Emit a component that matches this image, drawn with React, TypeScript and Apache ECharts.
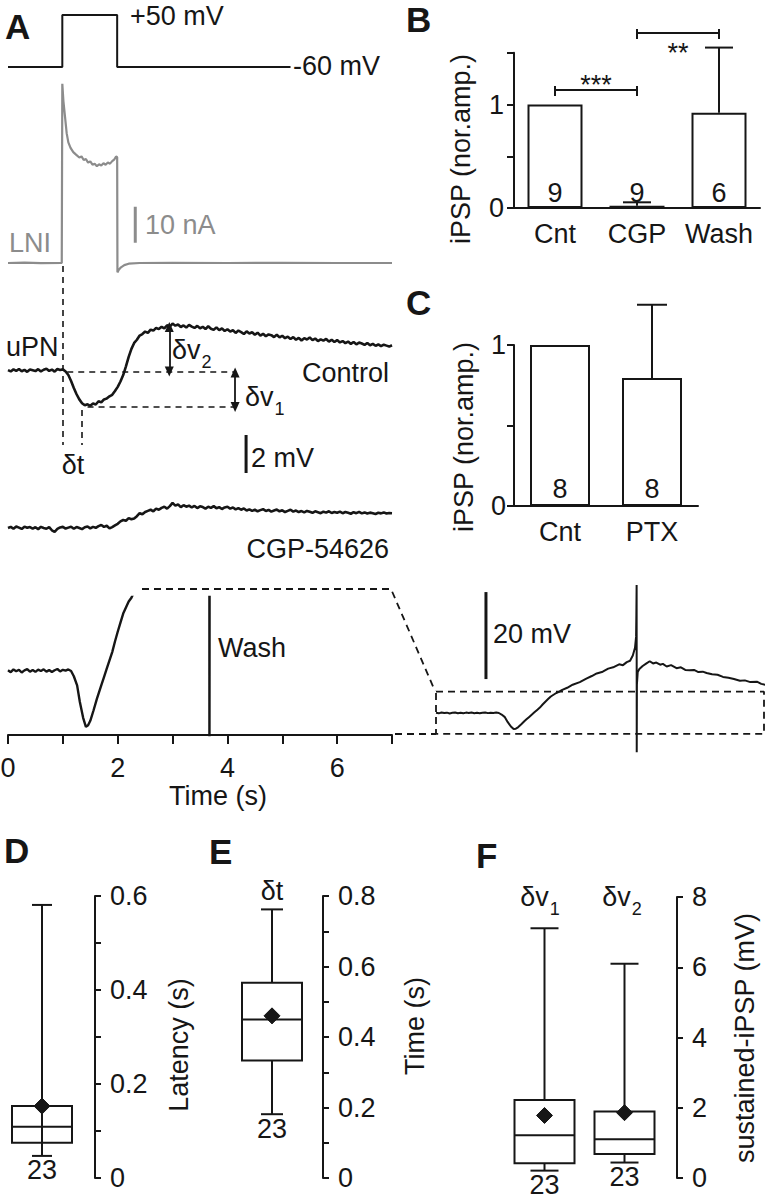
import React, { useEffect, useRef } from "react";
import * as echarts from "echarts";

const INK = "#161616";
const GRAY = "#8c8c8c";
const FONT = "'Liberation Sans', Arial, Helvetica, sans-serif";
const FS = 27;

// ---------------- Panel A : recordings ----------------
// command voltage step, [time (s), mV]
const commandTrace = [[0, -60], [0.99, -60], [0.99, 50], [1.99, 50], [1.99, -60], [5.15, -60]];
// LNI clamp current, [time (s), nA]
const lniCurrent = [
  [0, 0], [0.3, 0.1], [0.6, -0.05], [0.98, 0], [0.99, 49.8], [1.01, 45], [1.04, 40.5], [1.07, 36],
  [1.1, 33.5], [1.14, 32], [1.19, 30.8], [1.24, 30.1], [1.3, 29.3], [1.34, 29.6], [1.38, 28.6],
  [1.42, 28.9], [1.46, 27.9], [1.5, 28.2], [1.54, 27.3], [1.58, 27.6], [1.62, 26.9], [1.66, 27.4],
  [1.7, 27.1], [1.74, 27.7], [1.78, 27.3], [1.82, 27.9], [1.86, 27.6], [1.9, 28.3], [1.94, 28.8],
  [1.97, 29.6], [1.99, 29.4], [1.995, -2.6], [2.02, -1.9], [2.06, -1.2], [2.12, -0.6], [2.2, -0.2],
  [2.4, 0], [3, 0.05], [4, 0], [5, 0.05], [6, 0], [7, 0],
];
// uPN membrane potential (mV re. rest), sampled every 0.05 s from 0 to 7 s
const sampleStep = 0.05;
const controlTrace = [
  0.02, -0.05, 0.06, -0.02, 0.08, -0.04, 0.03, -0.07, 0.05, 0.01, -0.03, 0.07, -0.05, 0.04, 0.09, -0.02, 0.05, -0.06, 0.08, 0.03,
  0.06, -0.05, -0.24, -0.55, -0.92, -1.25, -1.52, -1.72, -1.83, -1.78, -1.86, -1.74, -1.79, -1.62, -1.68, -1.52, -1.48, -1.36, -1.28, -1.08,
  -0.86, -0.58, -0.24, 0.22, 0.72, 1.14, 1.45, 1.62, 1.84, 1.92, 2.05, 1.98, 2.15, 2.1, 2.24, 2.18, 2.3, 2.22, 2.38, 2.31,
  2.47, 2.36, 2.42, 2.29, 2.37, 2.26, 2.4, 2.31, 2.24, 2.35, 2.22, 2.3, 2.18, 2.33, 2.2, 2.14, 2.27, 2.12, 2.22, 2.08,
  2.17, 2.05, 2.12, 1.98, 2.1, 2.02, 1.92, 2.06, 1.95, 2.01, 1.88, 1.99, 1.84, 1.93, 1.8, 1.9, 1.86, 1.76, 1.88, 1.74,
  1.83, 1.7, 1.78, 1.66, 1.76, 1.62, 1.72, 1.58, 1.7, 1.63, 1.74, 1.6, 1.68, 1.55, 1.64, 1.57, 1.66, 1.52, 1.62, 1.5,
  1.6, 1.48, 1.55, 1.44, 1.52, 1.4, 1.5, 1.38, 1.47, 1.42, 1.35, 1.45, 1.33, 1.4, 1.3, 1.37, 1.28, 1.36, 1.31, 1.26, 1.33,
];
const cgpTrace = [
  0.0, 0.06, -0.04, 0.08, 0.02, -0.05, 0.07, 0.01, 0.05, -0.03, 0.04, -0.06, 0.06, 0.0, -0.04, 0.05, -0.12, -0.2, -0.05, 0.03,
  0.06, -0.03, 0.02, 0.07, -0.04, 0.05, 0.0, -0.06, 0.04, 0.08, -0.02, 0.06, 0.01, 0.1, 0.16, 0.06, 0.12, -0.02, 0.05, 0.14,
  0.22, 0.35, 0.42, 0.38, 0.52, 0.46, 0.5, 0.62, 0.78, 0.72, 0.84, 0.9, 0.96, 0.88, 1.02, 0.96, 1.06, 1.12, 1.02, 1.15,
  1.32, 1.18, 1.24, 1.1, 1.2, 1.12, 1.18, 1.08, 1.16, 1.05, 1.14, 1.1, 1.02, 1.12, 1.06, 1.15, 1.04, 1.1, 1.0, 1.08,
  1.12, 1.02, 1.08, 0.98, 1.05, 0.96, 1.03, 0.92, 0.98, 0.9, 0.96, 0.88, 0.94, 0.99, 0.9, 0.95, 0.86, 0.92, 0.97, 0.88,
  0.93, 0.84, 0.9, 0.96, 0.86, 0.92, 0.84, 0.89, 0.82, 0.9, 0.85, 0.8, 0.88, 0.83, 0.78, 0.86, 0.81, 0.88, 0.79, 0.84,
  0.8, 0.86, 0.78, 0.84, 0.8, 0.75, 0.83, 0.78, 0.85, 0.77, 0.82, 0.76, 0.81, 0.78, 0.74, 0.8, 0.77, 0.82, 0.76, 0.79, 0.78,
];
// wash recording, [time (s), mV re. rest]
const washTrace = [
  [0, 0.05], [0.05, -0.08], [0.1, 0.1], [0.15, -0.02], [0.2, 0.08], [0.25, -0.1], [0.3, 0.04], [0.35, 0.12],
  [0.4, -0.05], [0.45, 0.07], [0.5, -0.06], [0.55, 0.09], [0.6, 0.0], [0.65, 0.11], [0.7, -0.04], [0.75, 0.06],
  [0.8, -0.07], [0.85, 0.05], [0.9, 0.13], [0.95, -0.03], [1.0, 0.08], [1.05, 0.02], [1.1, 0.1], [1.15, 0.0],
  [1.2, -0.35], [1.26, -0.95], [1.31, -2.05], [1.37, -3.1], [1.42, -3.7], [1.46, -3.6], [1.5, -3.3], [1.56, -2.6],
  [1.62, -1.85], [1.66, -1.4], [1.7, -0.95], [1.75, -0.4], [1.8, 0.15], [1.85, 0.7], [1.9, 1.25], [1.95, 1.95],
  [2.0, 2.6], [2.05, 3.2], [2.1, 3.8], [2.15, 4.2], [2.2, 4.6], [2.25, 4.85], [2.3, 5.25], [2.4, 5.8],
  [2.5, 6.5], [2.63, 7.1], [2.75, 7.9], [2.85, 8.5], [2.94, 9.1], [3.05, 9.5], [3.15, 10.2], [3.24, 10.5],
  [3.35, 11.2], [3.42, 11.0], [3.49, 11.7], [3.55, 12.0], [3.6, 13.2], [3.64, 15.0], [3.66, 17.5], [3.665, 22.5],
  [3.67, 29.4], [3.672, -9], [3.675, 6.5], [3.69, 9.4], [3.72, 10.1], [3.78, 10.8], [3.85, 11.4], [3.91, 11.9],
  [3.97, 11.4], [4.03, 11.6], [4.1, 11.1], [4.15, 11.3], [4.22, 10.7], [4.3, 11.0], [4.4, 10.3], [4.48, 10.5],
  [4.56, 9.9], [4.64, 9.8], [4.72, 9.9], [4.8, 9.4], [4.88, 9.5], [4.95, 9.2], [5.05, 8.9], [5.15, 8.8],
  [5.25, 8.3], [5.35, 8.1], [5.45, 7.8], [5.56, 7.4], [5.65, 7.5], [5.75, 7.1], [5.87, 7.2], [5.95, 6.7], [6.05, 6.4],
];
const washZoomV = [-4.24, 4.9]; // mV window of the expanded wash view
const washBoxT = [0, 6];
const washBoxV = [-4.8, 4.9];
// scale bars: [time, start, length]
const currentBar = [2.32, 5.6, 10];
const controlBar = [4.34, -5.4, 2];
const washBar = [0.914, 7.8, 20];
// measurement guides on the control trace
const onsetT = 1.0;
const troughT = 1.35;
const troughV = -1.92;
const peakV = 2.29;
const dv2T = 2.94;
const dv1T = 4.14;

// ---------------- Panel B / C ----------------
const bCats = ["Cnt", "CGP", "Wash"];
const bMeans = [1, 0.022, 0.92];
const bSem = [0, 0.033, 0.63];
const bN = [9, 9, 6];
const bSigPairs = [[0, 1], [1, 2]];
const bSigLevel = [1.14, 1.69];
const bSigTextLevel = [1.19, 1.5];
const bSigText = ["***", "**"];

const cCats = ["Cnt", "PTX"];
const cMeans = [1, 0.795];
const cSem = [0, 0.455];
const cN = [8, 8];

// ---------------- Panel D / E / F : [min, q1, median, q3, max, mean] ----------------
const latencyBox = [0.047, 0.075, 0.109, 0.153, 0.581, 0.153];
const dtBox = [0.181, 0.333, 0.45, 0.554, 0.762, 0.46];
const dv1Box = [0.21, 0.42, 1.22, 2.22, 7.11, 1.78];
const dv2Box = [0.44, 0.68, 1.1, 1.89, 6.1, 1.86];
const boxN = [23, 23, 23, 23];

const txt = (x: number, y: number, text: string, extra: any = {}) => ({
  type: "text",
  x,
  y,
  silent: true,
  style: { text, fontSize: FS, fontFamily: FONT, fill: INK, align: "left", verticalAlign: "middle", ...extra },
});
const vtxt = (x: number, y: number, text: string) => ({
  type: "text",
  x,
  y,
  rotation: Math.PI / 2,
  silent: true,
  style: { text, fontSize: FS, fontFamily: FONT, fill: INK, align: "center", verticalAlign: "middle" },
});
const subTxt = (x: number, y: number, main: string, sub: string, align = "left") => ({
  type: "text",
  x,
  y,
  silent: true,
  style: {
    text: `{m|${main}}{s|${sub}}`,
    align,
    verticalAlign: "middle",
    rich: {
      m: { fontSize: FS, fontFamily: FONT, fill: INK },
      s: { fontSize: 18, fontFamily: FONT, fill: INK, padding: [24, 0, 0, 1] },
    },
  },
});

const lineS = (g: number, data: any[], color: string, width: number, extra: any = {}) => ({
  type: "line",
  xAxisIndex: g,
  yAxisIndex: g,
  data,
  symbol: "none",
  showSymbol: false,
  silent: true,
  lineStyle: { color, width },
  ...extra,
});

const errorItem = (capHalf: number) => (params: any, api: any) => {
  const i = api.value(0);
  const a = api.coord([i, api.value(1)]);
  const b = api.coord([i, api.value(2)]);
  const st = { stroke: INK, lineWidth: 2 };
  return {
    type: "group",
    children: [
      { type: "line", shape: { x1: a[0], y1: a[1], x2: b[0], y2: b[1] }, style: st },
      { type: "line", shape: { x1: b[0] - capHalf, y1: b[1], x2: b[0] + capHalf, y2: b[1] }, style: st },
    ],
  };
};

const boxItem = (capHalf: number, filled: boolean) => (params: any, api: any) => {
  const i = api.value(0);
  const v = [1, 2, 3, 4, 5, 6].map((k) => api.value(k));
  const [mn, q1, md, q3, mx, mean] = v;
  const n = api.value(7);
  const xc = api.coord([i, md])[0];
  const y = (val: number) => api.coord([i, val])[1];
  const hw = 30;
  const st = { stroke: INK, lineWidth: 2 };
  const children: any[] = [];
  if (filled) {
    children.push({ type: "line", shape: { x1: xc, y1: y(q3), x2: xc, y2: y(mx) }, style: st });
    children.push({ type: "line", shape: { x1: xc, y1: y(q1), x2: xc, y2: y(mn) }, style: st });
  } else {
    children.push({ type: "line", shape: { x1: xc, y1: y(mn), x2: xc, y2: y(mx) }, style: st });
  }
  children.push({ type: "line", shape: { x1: xc - capHalf, y1: y(mx), x2: xc + capHalf, y2: y(mx) }, style: st });
  children.push({ type: "line", shape: { x1: xc - capHalf, y1: y(mn), x2: xc + capHalf, y2: y(mn) }, style: st });
  children.push({
    type: "rect",
    shape: { x: xc - hw, y: y(q3), width: hw * 2, height: y(q1) - y(q3) },
    style: { stroke: INK, lineWidth: 2, fill: filled ? "#ffffff" : "none" },
  });
  children.push({ type: "line", shape: { x1: xc - hw, y1: y(md), x2: xc + hw, y2: y(md) }, style: st });
  const ym = y(mean);
  children.push({
    type: "polygon",
    shape: { points: [[xc, ym - 8], [xc + 8, ym], [xc, ym + 8], [xc - 8, ym]] },
    style: { fill: INK, stroke: INK, lineWidth: 1 },
  });
  children.push({
    type: "text",
    x: xc,
    y: y(mn) + 1,
    style: { text: String(n), fontSize: FS, fontFamily: FONT, fill: INK, align: "center", verticalAlign: "top" },
  });
  return { type: "group", children };
};

const bracketItem = (params: any, api: any) => {
  const i1 = api.value(0);
  const i2 = api.value(1);
  const lv = api.value(2);
  const tl = api.value(3);
  const a = api.coord([i1, lv]);
  const b = api.coord([i2, lv]);
  const ty = api.coord([i1, tl])[1];
  const st = { stroke: INK, lineWidth: 2 };
  return {
    type: "group",
    children: [
      { type: "line", shape: { x1: a[0], y1: a[1], x2: b[0], y2: b[1] }, style: st },
      { type: "line", shape: { x1: a[0], y1: a[1] - 4, x2: a[0], y2: a[1] + 6 }, style: st },
      { type: "line", shape: { x1: b[0], y1: b[1] - 4, x2: b[0], y2: b[1] + 6 }, style: st },
      {
        type: "text",
        x: (a[0] + b[0]) / 2,
        y: ty,
        style: {
          text: bSigText[params.dataIndex],
          fontSize: FS,
          fontFamily: FONT,
          fill: INK,
          align: "center",
          verticalAlign: "middle",
        },
      },
    ],
  };
};

const axisLineStyle = { show: true, lineStyle: { color: INK, width: 2 } };
const labelStyle = { color: INK, fontSize: FS, fontFamily: FONT };

function buildOption(): any {
  const hiddenX = (g: number, max: number) => ({ gridIndex: g, type: "value", min: 0, max, show: false });
  const hiddenY = (g: number, min: number, max: number) => ({ gridIndex: g, type: "value", min, max, show: false });
  const boxY = (g: number, max: number, interval: number, offset: number, fmt: (v: number) => string) => ({
    gridIndex: g,
    type: "value",
    position: "right",
    offset,
    min: 0,
    max,
    interval,
    axisLine: axisLineStyle,
    axisTick: { show: true, length: 6, lineStyle: { color: INK, width: 2 } },
    axisLabel: { ...labelStyle, margin: 15, formatter: fmt },
    splitLine: { show: false },
  });
  const tenths = (v: number) => {
    const k = Math.round(v * 10);
    return k % 2 === 0 ? String(k / 10) : "";
  };
  const catX = (g: number, data: string[], show: boolean) => ({
    gridIndex: g,
    type: "category",
    data,
    show,
    axisLine: axisLineStyle,
    axisTick: { show: false },
    axisLabel: { ...labelStyle, margin: 12, interval: 0, hideOverlap: false },
  });
  const barY = (g: number, max: number, margin: number) => ({
    gridIndex: g,
    type: "value",
    min: 0,
    max,
    interval: 0.5,
    axisLine: axisLineStyle,
    axisTick: { show: true, length: 7, lineStyle: { color: INK, width: 2 } },
    axisLabel: { ...labelStyle, margin, formatter: (v: number) => (v === 0 || v === 1 ? String(v) : "") },
    splitLine: { show: false },
  });

  const grids = [
    { left: 8, top: 15, width: 384, height: 52 },
    { left: 8, top: 83, width: 384, height: 190.8 },
    { left: 8, top: 266, width: 384, height: 218.5 },
    { left: 8, top: 490, width: 384, height: 57 },
    { left: 8, top: 597, width: 384, height: 138 },
    { left: 436, top: 582.5, width: 328, height: 174 },
    { left: 514, top: 52.75, width: 246, height: 155.25 },
    { left: 514, top: 345, width: 184, height: 161 },
    { left: 0, top: 896, width: 84, height: 282 },
    { left: 232, top: 896, width: 80, height: 282 },
    { left: 504.5, top: 897, width: 160, height: 281 },
  ].map((g) => ({ ...g, containLabel: false, outerBoundsMode: "none", show: false }));

  const xAxis = [
    hiddenX(0, 7),
    hiddenX(1, 7),
    hiddenX(2, 7),
    hiddenX(3, 7),
    {
      gridIndex: 4,
      type: "value",
      min: 0,
      max: 7,
      interval: 1,
      axisLine: { show: true, onZero: false, lineStyle: { color: INK, width: 2 } },
      axisTick: { show: true, length: 9, lineStyle: { color: INK, width: 2 } },
      axisLabel: { ...labelStyle, margin: 19, formatter: (v: number) => (v % 2 === 0 ? String(v) : "") },
      splitLine: { show: false },
      name: "Time (s)",
      nameLocation: "middle",
      nameGap: 47,
      nameTextStyle: { ...labelStyle, padding: [0, 0, 0, 36] },
    },
    hiddenX(5, 6),
    catX(6, bCats, true),
    catX(7, cCats, true),
    catX(8, ["Latency"], false),
    catX(9, ["δt"], false),
    catX(10, ["δv1", "δv2"], false),
  ];
  const yAxis = [
    hiddenY(0, -60, 50),
    hiddenY(1, -3, 50),
    hiddenY(2, -6, 5.5),
    hiddenY(3, -1, 2),
    hiddenY(4, washZoomV[0], washZoomV[1]),
    hiddenY(5, -10, 30),
    barY(6, 1.5, 10),
    barY(7, 1, 8),
    boxY(8, 0.6, 0.1, 11, tenths),
    boxY(9, 0.8, 0.1, 11, tenths),
    boxY(10, 8, 2, 12.5, (v: number) => String(v)),
  ];

  const dash = { color: INK, width: 1.6, type: [6, 5] };
  const arrowEnd = (t: number, v: number) => ({ coord: [t, v], symbol: "triangle", symbolSize: [9, 10], lineStyle: { color: INK, width: 1.8, type: "solid" } });
  const guideMarks = {
    silent: true,
    animation: false,
    symbol: ["none", "none"],
    label: { show: false },
    lineStyle: dash,
    data: [
      [{ coord: [onsetT, 5.5], lineStyle: dash }, { coord: [onsetT, -3.92] }],
      [{ coord: [troughT, -2.08], lineStyle: dash }, { coord: [troughT, -3.92] }],
      [{ coord: [1.08, -0.05], lineStyle: dash }, { coord: [dv1T + 0.02, -0.05] }],
      [{ coord: [1.45, troughV], lineStyle: dash }, { coord: [dv1T + 0.02, troughV] }],
      [arrowEnd(dv2T, peakV), arrowEnd(dv2T, -0.05)],
      [arrowEnd(dv1T, -0.1), arrowEnd(dv1T, troughV)],
    ],
  };

  const toXY = (arr: number[]) => arr.map((v, i) => [Math.round(i * sampleStep * 1000) / 1000, v]);
  const bar = (t: number, from: number, len: number) => [[t, from], [t, from + len]];

  const series: any[] = [
    lineS(0, commandTrace, INK, 2),
    lineS(1, lniCurrent, GRAY, 2.2),
    lineS(1, bar(currentBar[0], currentBar[1], currentBar[2]), GRAY, 3),
    lineS(2, toXY(controlTrace), INK, 2.6, { markLine: guideMarks }),
    lineS(2, bar(controlBar[0], controlBar[1], controlBar[2]), INK, 3),
    lineS(3, toXY(cgpTrace), INK, 2.6),
    lineS(4, washTrace, INK, 2.4, { clip: true }),
    lineS(5, washTrace, INK, 2),
    lineS(
      5,
      [
        [washBoxT[0], washBoxV[1]],
        [washBoxT[1], washBoxV[1]],
        [washBoxT[1], washBoxV[0]],
        [washBoxT[0], washBoxV[0]],
        [washBoxT[0], washBoxV[1]],
      ],
      INK,
      1.8,
      { lineStyle: { color: INK, width: 1.8, type: [7, 5] } }
    ),
    lineS(5, bar(washBar[0], washBar[1], washBar[2]), INK, 3),
    // panel B
    {
      type: "bar",
      xAxisIndex: 6,
      yAxisIndex: 6,
      data: bMeans,
      barWidth: 55,
      silent: true,
      itemStyle: { color: "#ffffff", borderColor: INK, borderWidth: 2 },
      label: { show: true, position: "insideBottom", distance: 2, formatter: (p: any) => String(bN[p.dataIndex]), ...labelStyle },
    },
    {
      type: "custom",
      xAxisIndex: 6,
      yAxisIndex: 6,
      silent: true,
      z: 5,
      renderItem: errorItem(14),
      encode: { x: 0, y: 2 },
      data: bMeans.map((m, i) => [i, m, m + bSem[i]]).filter((_, i) => bSem[i] > 0),
    },
    {
      type: "custom",
      xAxisIndex: 6,
      yAxisIndex: 6,
      silent: true,
      z: 5,
      renderItem: bracketItem,
      encode: { x: 0, y: 2 },
      data: bSigPairs.map((p, i) => [p[0], p[1], bSigLevel[i], bSigTextLevel[i]]),
    },
    // panel C
    {
      type: "bar",
      xAxisIndex: 7,
      yAxisIndex: 7,
      data: cMeans,
      barWidth: 60,
      silent: true,
      itemStyle: { color: "#ffffff", borderColor: INK, borderWidth: 2 },
      label: { show: true, position: "insideBottom", distance: 4, formatter: (p: any) => String(cN[p.dataIndex]), ...labelStyle },
    },
    {
      type: "custom",
      xAxisIndex: 7,
      yAxisIndex: 7,
      silent: true,
      z: 5,
      renderItem: errorItem(15),
      encode: { x: 0, y: 2 },
      data: cMeans.map((m, i) => [i, m, m + cSem[i]]).filter((_, i) => cSem[i] > 0),
    },
    // panels D, E, F
    {
      type: "custom",
      xAxisIndex: 8,
      yAxisIndex: 8,
      silent: true,
      renderItem: boxItem(10, false),
      encode: { x: 0, y: 1 },
      data: [[0, ...latencyBox, boxN[0]]],
    },
    {
      type: "custom",
      xAxisIndex: 9,
      yAxisIndex: 9,
      silent: true,
      renderItem: boxItem(11, true),
      encode: { x: 0, y: 1 },
      data: [[0, ...dtBox, boxN[1]]],
    },
    {
      type: "custom",
      xAxisIndex: 10,
      yAxisIndex: 10,
      silent: true,
      renderItem: boxItem(14, true),
      encode: { x: 0, y: 1 },
      data: [
        [0, ...dv1Box, boxN[2]],
        [1, ...dv2Box, boxN[3]],
      ],
    },
  ];

  const bold = { fontWeight: "bold", fontSize: 35 };
  const graphic = [
    txt(5, 26, "A", bold),
    txt(406, 19, "B", bold),
    txt(406, 302, "C", bold),
    txt(4, 850, "D", bold),
    txt(209, 851, "E", bold),
    txt(476, 855, "F", bold),
    txt(130, 16, "+50 mV"),
    txt(293, 66, "-60 mV"),
    txt(9, 243, "LNI", { fill: GRAY }),
    txt(145, 225, "10 nA", { fill: GRAY }),
    txt(6, 347, "uPN"),
    txt(389, 373, "Control", { align: "right" }),
    subTxt(172, 350, "δv", "2"),
    subTxt(245, 397, "δv", "1"),
    txt(73, 465, "δt", { align: "center" }),
    txt(251, 458, "2 mV"),
    txt(389, 549, "CGP-54626", { align: "right" }),
    txt(218, 648, "Wash"),
    txt(493, 634, "20 mV"),
    {
      type: "polyline",
      silent: true,
      shape: { points: [[142, 589], [391, 589], [435, 691]] },
      style: { stroke: INK, lineWidth: 1.8, lineDash: [7, 5], fill: null },
    },
    {
      type: "line",
      silent: true,
      shape: { x1: 395, y1: 734, x2: 436, y2: 734 },
      style: { stroke: INK, lineWidth: 1.8, lineDash: [7, 5] },
    },
    vtxt(461, 149, "iPSP (nor.amp.)"),
    vtxt(464, 437, "iPSP (nor.amp.)"),
    vtxt(179, 1045, "Latency (s)"),
    vtxt(415, 1026, "Time (s)"),
    vtxt(745, 1038, "sustained-iPSP (mV)"),
    txt(272, 891, "δt", { align: "center" }),
    subTxt(540, 897, "δv", "1", "center"),
    subTxt(622, 897, "δv", "2", "center"),
  ];

  return {
    animation: false,
    backgroundColor: "#ffffff",
    textStyle: { fontFamily: FONT },
    grid: grids,
    xAxis,
    yAxis,
    series,
    graphic,
  };
}

export default function App() {
  const ref = useRef<HTMLDivElement>(null);
  useEffect(() => {
    document.body.style.margin = "0";
    if (!ref.current) return;
    const chart = echarts.init(ref.current, null, { renderer: "svg" });
    chart.setOption(buildOption());
    return () => chart.dispose();
  }, []);
  return <div ref={ref} style={{ width: 769, height: 1199, background: "#fff" }} />;
}
